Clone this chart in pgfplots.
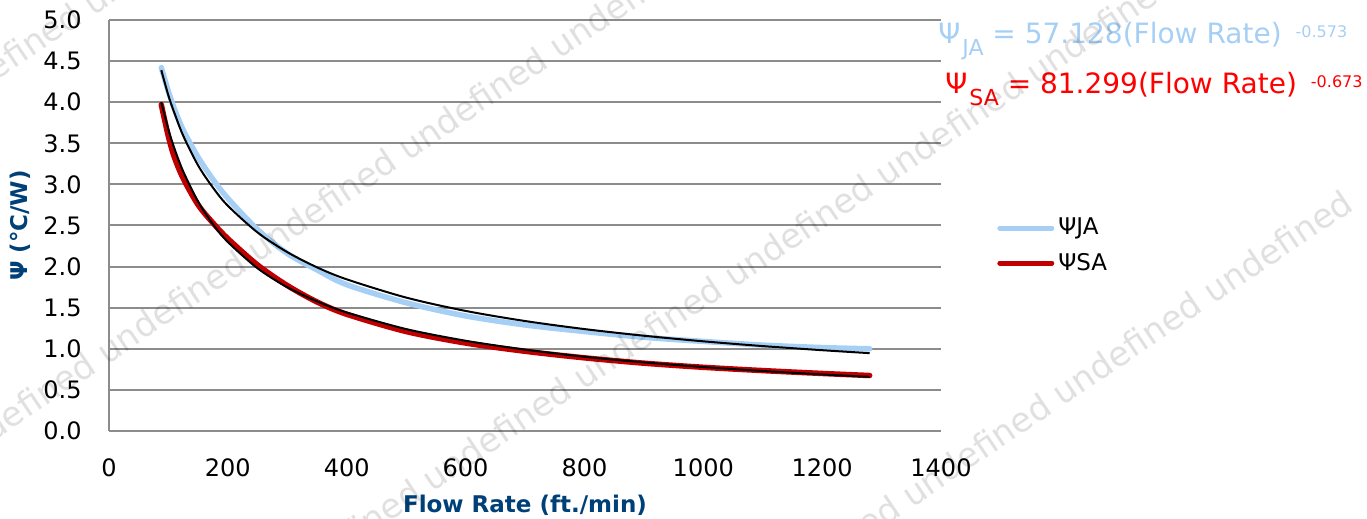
\documentclass[border=0pt]{standalone}
\usepackage{fontspec}
\setmainfont{DejaVu Sans}
\usepackage{pgfplots}
\pgfplotsset{compat=1.18}
\definecolor{jablue}{RGB}{166,207,245}
\definecolor{sared}{RGB}{192,0,0}
\definecolor{eqred}{RGB}{255,0,0}
\definecolor{labelblue}{RGB}{0,64,120}
\definecolor{gridgray}{RGB}{140,140,140}

\begin{document}
\begin{tikzpicture}
  \useasboundingbox (0,0) rectangle (683.5pt,259.5pt);
  \begin{axis}[
    at={(54.5pt,44pt)}, anchor=south west,
    scale only axis, width=416pt, height=205.5pt,
    xmin=0, xmax=1400, ymin=0, ymax=5,
    axis x line*=bottom, axis y line*=left,
    axis line style={draw=gridgray, line width=1pt, -},
    major tick length=0pt,
    xtick={0,200,...,1400},
    ytick={0,0.5,...,5},
    ymajorgrids,
    grid style={draw=gridgray, line width=1pt},
    /pgf/number format/assume math mode=true,
    tick label style={font=\fontsize{12}{14}\selectfont, text=black},
    xticklabel style={anchor=north, inner sep=0pt, yshift=-13.5pt,
      /pgf/number format/1000 sep={}},
    yticklabel style={anchor=east, inner sep=0pt, xshift=-13.5pt,
      /pgf/number format/fixed, /pgf/number format/fixed zerofill,
      /pgf/number format/precision=1},
    xlabel={Flow Rate (ft./min)},
    ylabel={Ψ (°C/W)},
    label style={font=\bfseries\fontsize{11.5}{13}\selectfont, text=labelblue},
    xlabel style={at={(axis description cs:0.5,-0.18)}, anchor=center},
    ylabel style={at={(axis description cs:-0.107,0.5)}, anchor=center},
    legend style={at={(axis description cs:1.060,0.451)}, anchor=west,
      draw=none, fill=none, font=\fontsize{11.5}{13}\selectfont, row sep=3.5pt},
    legend cell align=left,
    legend image code/.code={\draw[#1, line width=2.5pt, line cap=round] (0pt,0pt) -- (26pt,0pt);},
  ]
    % measured data
    \addplot[jablue, line width=2.75pt, line cap=round, smooth] coordinates {
      (88,4.42) (100,4.13) (110,3.92) (125,3.66) (150,3.33) (175,3.06)
      (200,2.83) (250,2.45) (300,2.16) (350,1.96) (400,1.78) (500,1.56)
      (600,1.40) (700,1.29) (800,1.21) (900,1.14) (1000,1.09) (1100,1.045)
      (1200,1.015) (1280,1.00)
    };
    \addlegendentry{ΨJA}
    \addplot[sared, line width=2.75pt, line cap=round, smooth] coordinates {
      (88,3.97) (100,3.58) (110,3.33) (125,3.07) (150,2.75) (175,2.53)
      (200,2.34) (250,2.02) (300,1.77) (350,1.57) (400,1.42) (500,1.21)
      (600,1.07) (700,0.97) (800,0.89) (900,0.825) (1000,0.775) (1100,0.735)
      (1200,0.70) (1280,0.675)
    };
    \addlegendentry{ΨSA}
    % power trendlines
    \addplot[black, line width=1pt, smooth, forget plot] coordinates {
      (88,4.39) (100,4.08) (110,3.87) (125,3.59) (150,3.23) (175,2.96)
      (200,2.74) (250,2.415) (300,2.176) (350,1.991) (400,1.845) (500,1.623)
      (600,1.461) (700,1.338) (800,1.240) (900,1.159) (1000,1.091) (1100,1.033)
      (1200,0.983) (1280,0.947)
    };
    \addplot[black, line width=1pt, smooth, forget plot] coordinates {
      (88,4.00) (100,3.667) (110,3.439) (125,3.156) (150,2.790) (175,2.515)
      (200,2.299) (250,1.979) (300,1.749) (350,1.577) (400,1.442) (500,1.240)
      (600,1.098) (700,0.990) (800,0.903) (900,0.835) (1000,0.778) (1100,0.730)
      (1200,0.688) (1280,0.659)
    };
  \end{axis}

  \node[anchor=base west, inner sep=0pt, text=jablue, font=\fontsize{14}{16}\selectfont]
    at (469pt,237.5pt) {Ψ\hspace{1pt}\raisebox{-6pt}{\fontsize{11}{13}\selectfont JA} = 57.128(Flow Rate)\hspace{7pt}\raisebox{3pt}{\fontsize{8}{9}\selectfont -0.573}};
  \node[anchor=base west, inner sep=0pt, text=eqred, font=\fontsize{14}{16}\selectfont]
    at (472.5pt,212.85pt) {Ψ\hspace{1pt}\raisebox{-6pt}{\fontsize{11}{13}\selectfont SA} = 81.299(Flow Rate)\hspace{7pt}\raisebox{3pt}{\fontsize{8}{9}\selectfont -0.673}};

  % watermark
  \begin{scope}[every node/.style={anchor=base west, inner sep=0pt, rotate=34,
      text=black, text opacity=0.12, font=\fontsize{17}{17}\selectfont}]
    \node at (-29pt,200.5pt) {undefined undefined};
    \node at (-22pt,26pt) {undefined undefined undefined undefined undefined};
    \node at (65.5pt,-88.5pt) {undefined undefined undefined undefined undefined undefined undefined};
    \node at (380.5pt,-45.5pt) {undefined undefined undefined undefined};
  \end{scope}
\end{tikzpicture}
\end{document}
